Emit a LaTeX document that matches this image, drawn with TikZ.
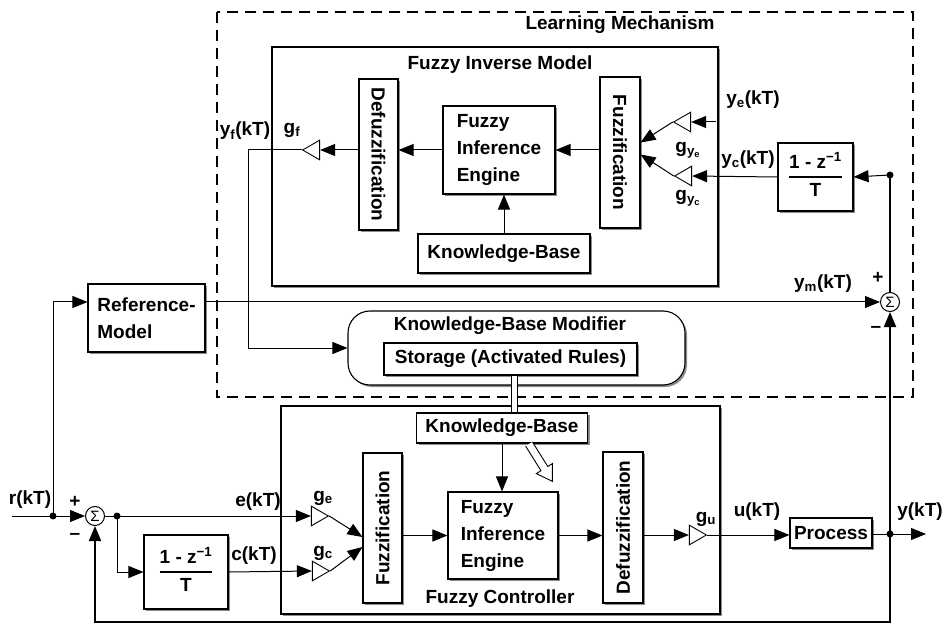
\documentclass[tikz,border=0pt]{standalone}
\usepackage{fontspec}
\setmainfont{Liberation Sans}
\usetikzlibrary{arrows.meta,shapes.geometric,shadows,calc}
\setlength\arrayrulewidth{1.6pt}
% discrete derivative block (1 - z^-1)/T
\newcommand\diffop{\begin{tabular}{@{}c@{}}1 - z\textsuperscript{−1}\\\hline T\end{tabular}}

\tikzset{
  every node/.style={font=\bfseries\fontsize{19}{27}\selectfont},
  blk/.style={draw, line width=1.1pt, fill=white, inner sep=0pt, align=center,
    general shadow={fill=black!45, shadow xshift=2pt, shadow yshift=-2pt}},
  wire/.style={line width=1pt},
  tip/.style={-{Triangle[length=15pt,width=12pt]}},
  sig/.style={wire, tip},
  heavy/.style={line width=1.9pt},
  gain/.style={draw, line width=0.9pt, fill=white, isosceles triangle,
    isosceles triangle apex angle=60, inner sep=0pt, minimum size=17pt},
  sumnode/.style={draw, circle, line width=1pt, fill=white, minimum size=19pt,
    inner sep=0pt, font=\fontsize{15}{15}\selectfont},
  dot/.style={circle, fill, inner sep=0pt, minimum size=7pt},
  lbl/.style={inner sep=1pt},
  lmframe/.style={line width=2.4pt, dash pattern=on 11pt off 7pt},
}

\begin{document}
\begin{tikzpicture}[x=1pt,y=-1pt]
\useasboundingbox (0,0) rectangle (945,628);

% learning mechanism frame
\node[minimum width=696pt, minimum height=385pt, inner sep=0pt] (lm) at (565,204.5) {};
\draw[lmframe] (lm.north west) rectangle (lm.south east);
\node[lbl] (lmtitle) at (620,25) {Learning Mechanism};

% ---- fuzzy inverse model ----
\node[blk, minimum width=446pt, minimum height=239pt] (fim) at (495,166.5) {};
\node[lbl] (fimtitle) at (500,65) {Fuzzy Inverse Model};
\node[blk, minimum width=39pt, minimum height=151pt] (tdefuzz) at (378.5,154.5) {\rotatebox{-90}{Defuzzification}};
\node[blk, minimum width=40pt, minimum height=151pt] (tfuzz) at (620,152.5) {\rotatebox{-90}{Fuzzification}};
\node[blk, minimum width=112pt, minimum height=88pt, align=left] (tfie) at (499,150) {Fuzzy\\Inference\\Engine};
\node[blk, minimum width=172pt, minimum height=39pt] (tkb) at (504,253.5) {Knowledge-Base};
\node[gain, shape border rotate=180] (gf) at (314,150) {};
\node[gain, shape border rotate=200] (gye) at (685,122) {};
\node[gain, shape border rotate=160] (gyc) at (686,176) {};
\node[blk, minimum width=75pt, minimum height=68pt] (tderiv) at (815.5,177) {\diffop};

% ---- knowledge-base modifier ----
\node[blk, rounded corners=22pt, minimum width=337pt, minimum height=74pt] (kbm) at (516.5,348) {};
\node[lbl] (kbmtitle) at (510,326) {Knowledge-Base Modifier};
\node[blk, minimum width=253pt, minimum height=32pt] (storage) at (510.5,359) {Storage (Activated Rules)};

% ---- reference model and fuzzy controller ----
\node[blk, minimum width=117pt, minimum height=68pt, align=left] (ref) at (146.5,318) {Reference-\\Model};
\node[blk, minimum width=439pt, minimum height=208pt] (fc) at (500.5,510) {};
\node[lbl] (fctitle) at (500,599) {Fuzzy Controller};
\node[blk, minimum width=39pt, minimum height=150pt] (bfuzz) at (382.5,528) {\rotatebox{90}{Fuzzification}};
\node[blk, minimum width=40pt, minimum height=151pt] (bdefuzz) at (623,527.5) {\rotatebox{90}{Defuzzification}};
\node[blk, minimum width=110pt, minimum height=87pt, align=left] (bfie) at (503,535.5) {Fuzzy\\Inference\\Engine};
\node[blk, minimum width=171pt, minimum height=30pt] (bkb) at (502,428) {Knowledge-Base};
\node[gain, shape border rotate=-18] (ge) at (317,516) {};
\node[gain, shape border rotate=18] (gc) at (318,571) {};
\node[gain, shape border rotate=0] (gu) at (695,535) {};
\node[blk, minimum width=82pt, minimum height=30pt] (process) at (831,533) {Process};
\node[blk, minimum width=84pt, minimum height=74pt] (dL) at (186,572) {\diffop};

% summing junctions and branch points
\node[sumnode] (sumL) at (95,516) {Σ};
\node[sumnode] (sumR) at (890,302) {Σ};
\coordinate (rin) at (12,516);
\node[dot] (rdot) at (53,516) {};
\node[dot] (edot) at (117,516) {};
\node[dot] (ydot) at (890,534) {};
\node[dot] (ycdot) at (890,175) {};
\coordinate (yout) at (926,534);
\coordinate (fb) at (890,622);
\coordinate (yfb) at (248,150);
\coordinate (yein) at (716,122);

% signal labels
\node[lbl] (lr) at (30,500) {r(kT)};
\node[lbl] (lpl) at (75,502) {+};
\node[lbl] (lml) at (75,536) {–};
\node[lbl] (le) at (258,502) {e(kT)};
\node[lbl] (lc) at (254,556) {c(kT)};
\node[lbl] (lge) at (323,498) {g\textsubscript{e}};
\node[lbl] (lgc) at (323,553) {g\textsubscript{c}};
\node[lbl] (lgu) at (706,519) {g\textsubscript{u}};
\node[lbl] (lu) at (757,512) {u(kT)};
\node[lbl] (ly) at (920,512) {y(kT)};
\node[lbl] (lym) at (823,284) {y\textsubscript{m}(kT)};
\node[lbl] (lpr) at (878,278) {+};
\node[lbl] (lmr) at (876,329) {–};
\node[lbl] (lye) at (753,100) {y\textsubscript{e}(kT)};
\node[lbl] (lyc) at (748,160) {y\textsubscript{c}(kT)};
\node[lbl] (lgye) at (688,150) {g\textsubscript{y\textsubscript{e}}};
\node[lbl] (lgyc) at (688,198) {g\textsubscript{y\textsubscript{c}}};
\node[lbl] (lyf) at (245,131) {y\textsubscript{f}(kT)};
\node[lbl] (lgf) at (292,130) {g\textsubscript{f}};

% ---- connectors: controller loop ----
\draw[sig] (rin) -- (sumL.west);
\draw[sig] (rdot.center) |- ([yshift=16pt]ref.west);
\draw[wire] (sumL.east) -- (edot.center);
\draw[sig] (edot.center) -- (ge.lower side);
\draw[sig] (edot.center) |- (dL.west);
\draw[sig] (dL.east) -- (gc.lower side);
\draw[sig] (ge.apex) -- ([yshift=-9pt]bfuzz.west);
\draw[sig] (gc.apex) -- ([yshift=-19pt]bfuzz.west);
\draw[sig] (bfuzz.east |- bfie.west) -- (bfie.west);
\draw[sig] (bfie.east) -- (bdefuzz.west |- bfie.east);
\draw[sig] (bdefuzz.east |- gu) -- (gu.lower side);
\draw[sig] (gu.apex) -- (process.west |- gu.apex);
\draw[sig] (bkb.south) -- (bkb.south |- bfie.north);
\draw[wire] (process.east |- ydot) -- (ydot.center);
\draw[sig] (ydot.center) -- (yout);
\draw[heavy, tip] (ydot.center) -- (fb) -| (sumL.south);
\draw[heavy, tip] (ydot.center) -- (sumR.south);

% ---- connectors: learning mechanism ----
\draw[sig] ([yshift=16pt]ref.east) -- (sumR.west);
\draw[heavy] (sumR.north) -- (ycdot.center);
\draw[sig] (ycdot.center) -- (tderiv.east);
\draw[sig] (tderiv.west) -- (gyc.lower side);
\draw[sig] (yein) -- (gye.lower side);
\draw[sig] (gye.apex) -- ([yshift=10pt]tfuzz.east);
\draw[sig] (gyc.apex) -- ([yshift=-2pt]tfuzz.east);
\draw[sig] (tfuzz.west |- tfie.east) -- (tfie.east);
\draw[sig] (tfie.west) -- (tdefuzz.east |- tfie.west);
\draw[sig] (tdefuzz.west |- gf) -- (gf.lower side);
\draw[sig] (tkb.north) -- (tkb.north |- tfie.south);
\draw[sig] (gf.apex) -- (yfb) |- (kbm.west);

% rule storage feeds the controller knowledge base
\draw[line width=1pt, double=white, double distance=5pt]
  ([xshift=4pt]storage.south) -- ([xshift=4pt]storage.south |- bkb.north);

% hollow modification arrow
\begin{scope}[shift={(529,444)}, rotate=-58]
  \draw[line width=0.9pt, fill=white]
    (0,-4) -- (29,-4) -- (29,-9.5) -- (44,0) -- (29,9.5) -- (29,4) -- (0,4);
\end{scope}
\end{tikzpicture}
\end{document}
